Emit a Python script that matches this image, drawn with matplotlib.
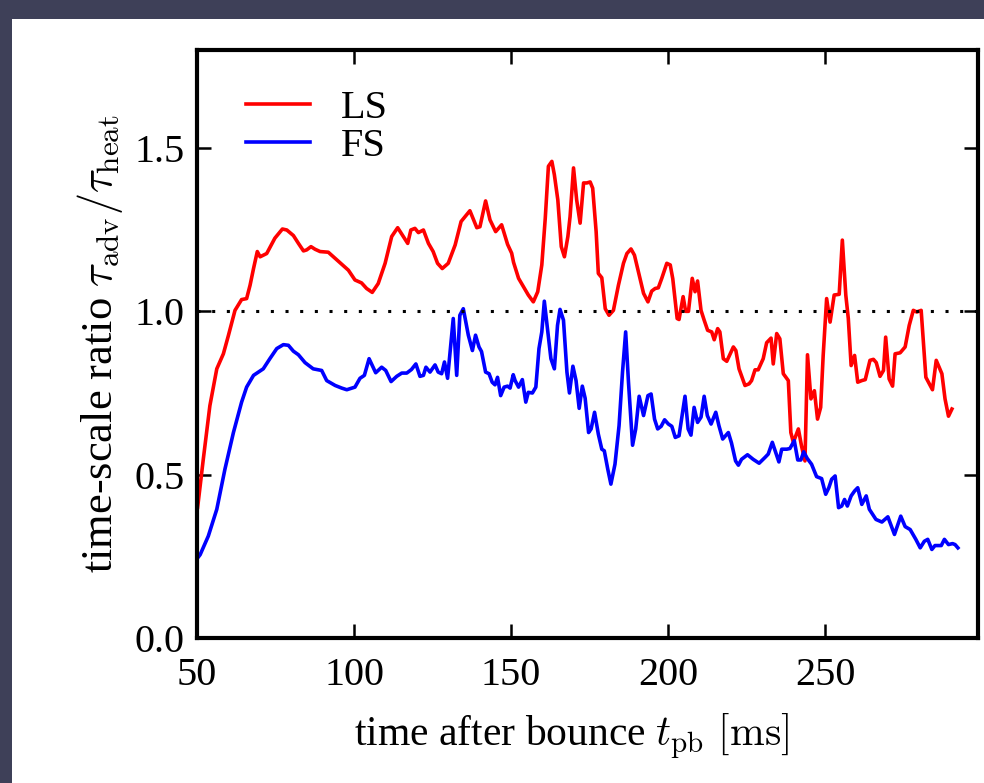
import matplotlib
matplotlib.use('Agg')
import matplotlib.pyplot as plt
from matplotlib.patches import Rectangle

# LS model (red)
ls_t = [50.2, 52, 54.1, 56.3, 58.4, 60, 62.1, 64.2, 65.8, 66.9, 68, 69.2, 70.1, 72.2, 74.8, 77.2,
        78.6, 80.7, 82.3, 83.9, 84.9, 86.3, 87.6, 89.2, 91.8, 94, 96.1, 98.2, 100.3, 102.4, 104,
        105.8, 107.7, 109.9, 112, 113.9, 115.7, 117.1, 118.1, 119.4, 120.5, 122.1, 123.7, 125.2,
        126.6, 128.1, 130, 132.2, 134.1, 136.9, 139.1, 140.1, 141.9, 143.3, 145.1, 147, 148.9,
        150.2, 150.8, 152.4, 154, 155.5, 157.1, 158.5, 159.8, 160.9, 161.9, 163, 163.8, 164.9,
        166, 167, 168.1, 168.8, 169.9, 170.9, 172, 173.1, 174.1, 175.2, 176, 177.1, 177.8, 178.9,
        180, 181.2, 182.6, 184.2, 185.8, 186.9, 188.2, 189.3, 190.8, 192.2, 193.6, 194.8, 195.9,
        196.9, 198, 199.6, 200.7, 201.5, 202.9, 203.5, 204.8, 205.6, 206.5, 207.7, 208.6, 209.4,
        210.5, 211.5, 212.6, 213.9, 214.7, 215.8, 216.5, 217.6, 218.7, 220.8, 221.6, 222.6, 224.5,
        225.8, 226.6, 227.7, 228.7, 230.3, 231.4, 232.8, 233.5, 234.6, 235.6, 236.7, 238.3, 239.1,
        239.9, 241.5, 242.5, 243.6, 244.4, 245.5, 246.6, 247.6, 248.6, 249.4, 250.5, 251.6, 252.9,
        254.5, 255.5, 256.6, 257.4, 258.3, 259.4, 260.4, 261.7, 262.8, 264.3, 265.4, 266.3, 267.5,
        268.6, 269.3, 270.4, 271.5, 272.3, 273.9, 275.5, 276.8, 278.1, 279.2, 280.6, 282.1, 284.2,
        285.4, 287.2, 288.2, 289.3, 290.4]
ls_r = [0.40, 0.547, 0.711, 0.824, 0.870, 0.926, 1.003, 1.036, 1.039, 1.080, 1.131, 1.183, 1.167,
        1.177, 1.224, 1.252, 1.249, 1.232, 1.208, 1.185, 1.188, 1.198, 1.190, 1.183, 1.181, 1.162,
        1.144, 1.126, 1.096, 1.087, 1.070, 1.058, 1.085, 1.147, 1.229, 1.256, 1.229, 1.208, 1.249,
        1.254, 1.241, 1.249, 1.208, 1.183, 1.147, 1.131, 1.147, 1.203, 1.275, 1.308, 1.256, 1.259,
        1.338, 1.280, 1.244, 1.265, 1.205, 1.178, 1.150, 1.101, 1.075, 1.050, 1.029, 1.060, 1.142,
        1.285, 1.444, 1.459, 1.418, 1.341, 1.198, 1.167, 1.229, 1.290, 1.439, 1.341, 1.270, 1.393,
        1.393, 1.396, 1.377, 1.244, 1.116, 1.103, 1.008, 0.988, 1.003, 1.080, 1.147, 1.177, 1.191,
        1.172, 1.111, 1.055, 1.029, 1.062, 1.070, 1.072, 1.101, 1.147, 1.142, 1.100, 0.978, 0.975,
        1.045, 1.000, 1.000, 1.101, 1.060, 1.093, 1.003, 0.973, 0.942, 0.937, 0.913, 0.947, 0.937,
        0.855, 0.847, 0.891, 0.880, 0.824, 0.773, 0.778, 0.788, 0.821, 0.821, 0.855, 0.904, 0.918,
        0.839, 0.932, 0.916, 0.809, 0.788, 0.629, 0.599, 0.640, 0.588, 0.542, 0.867, 0.732, 0.757,
        0.670, 0.706, 0.865, 1.039, 0.967, 1.050, 1.052, 1.218, 1.050, 0.978, 0.834, 0.865, 0.783,
        0.788, 0.791, 0.850, 0.853, 0.843, 0.801, 0.819, 0.921, 0.793, 0.771, 0.870, 0.873, 0.891,
        0.957, 1.003, 0.998, 1.003, 0.798, 0.760, 0.850, 0.809, 0.732, 0.679, 0.701]

# FS model (blue)
fs_t = [50.2, 51, 53.6, 56.3, 58.9, 61.6, 64.2, 65.8, 68, 71.1, 73.2, 75.4, 77.5, 79.1, 80.7, 82.3,
        84.4, 87, 89.7, 91.3, 94, 96.1, 97.7, 100.3, 101.9, 103.3, 104.8, 106.9, 108.8, 110.1,
        111.8, 113.6, 115.2, 116.8, 118.3, 119.7, 121, 122.1, 122.9, 124.2, 125.8, 126.8, 127.9,
        128.8, 129.8, 131.6, 132.7, 133.7, 134.8, 136.4, 137.7, 138.7, 139.8, 140.6, 141.9, 143,
        144, 144.9, 145.7, 146.7, 147.8, 148.9, 149.7, 150.7, 151.3, 152.4, 153.6, 154.7, 155.5,
        156.8, 157.9, 158.9, 159.8, 160.6, 161.6, 162.7, 163.8, 164.8, 165.6, 166.7, 167.8, 168.6,
        169.7, 170.7, 171.7, 172.7, 173.6, 174.7, 175.5, 176.6, 177.8, 178.9, 179.7, 180.8, 181.8,
        183.1, 184.4, 185.5, 186.5, 187.4, 188.7, 189.7, 190.8, 192.2, 193.6, 194.6, 195.7, 196.7,
        197.8, 198.9, 200.1, 201.2, 202.3, 203.5, 204.3, 205.4, 206.4, 207.3, 208.3, 209.4, 210.5,
        211.5, 212.5, 213.7, 215.2, 216.2, 217.4, 219.2, 220.2, 221.5, 222.4, 223.4, 225.3, 227.1,
        229, 230.9, 231.9, 233.2, 234.3, 235.3, 236.2, 237.8, 238.8, 240.2, 241.3, 242.3, 243.2,
        244.3, 245.7, 247.3, 248.9, 250.2, 251.2, 252.1, 253.2, 254.3, 255.3, 256.2, 257.1, 258.3,
        259.4, 260.4, 261.7, 263.1, 264.1, 266.2, 268.1, 270, 272.1, 274.1, 275.5, 277.1, 278.9,
        280.3, 281.6, 282.7, 284, 285, 287, 288, 289.3, 290.6, 291.4, 292.3]
fs_r = [0.245, 0.255, 0.312, 0.394, 0.517, 0.629, 0.722, 0.768, 0.804, 0.824, 0.855, 0.886, 0.898,
        0.896, 0.878, 0.867, 0.843, 0.824, 0.819, 0.788, 0.773, 0.765, 0.760, 0.768, 0.795, 0.804,
        0.855, 0.812, 0.829, 0.819, 0.785, 0.801, 0.811, 0.811, 0.822, 0.839, 0.801, 0.804, 0.829,
        0.814, 0.836, 0.814, 0.809, 0.845, 0.795, 0.978, 0.804, 0.988, 1.008, 0.927, 0.880, 0.927,
        0.891, 0.877, 0.814, 0.809, 0.783, 0.775, 0.798, 0.742, 0.768, 0.771, 0.765, 0.806, 0.788,
        0.768, 0.791, 0.722, 0.752, 0.750, 0.768, 0.886, 0.937, 1.031, 0.947, 0.855, 0.824, 0.957,
        1.006, 0.973, 0.814, 0.750, 0.832, 0.788, 0.703, 0.771, 0.734, 0.629, 0.640, 0.691, 0.624,
        0.578, 0.573, 0.517, 0.471, 0.532, 0.650, 0.814, 0.937, 0.783, 0.590, 0.640, 0.740, 0.681,
        0.742, 0.747, 0.670, 0.640, 0.648, 0.668, 0.655, 0.648, 0.614, 0.619, 0.670, 0.740, 0.640,
        0.621, 0.706, 0.660, 0.676, 0.740, 0.681, 0.655, 0.691, 0.650, 0.609, 0.629, 0.597, 0.542,
        0.529, 0.547, 0.561, 0.547, 0.535, 0.553, 0.563, 0.599, 0.568, 0.539, 0.578, 0.578, 0.580,
        0.604, 0.545, 0.545, 0.570, 0.550, 0.532, 0.494, 0.488, 0.440, 0.460, 0.486, 0.496, 0.399,
        0.404, 0.424, 0.404, 0.435, 0.450, 0.460, 0.409, 0.435, 0.394, 0.363, 0.355, 0.371, 0.317,
        0.373, 0.341, 0.332, 0.302, 0.276, 0.296, 0.302, 0.271, 0.283, 0.283, 0.302, 0.286, 0.289,
        0.286, 0.276]

x_ticks = [50, 100, 150, 200, 250]
y_ticks = [0.0, 0.5, 1.0, 1.5]
y_tick_labels = ['0.0', '0.5', '1.0', '1.5']

plt.rcParams['font.family'] = ['Liberation Serif', 'DejaVu Serif']
plt.rcParams['mathtext.fontset'] = 'cm'

fig = plt.figure(figsize=(9.84, 7.83), dpi=100)
fig.patch.set_facecolor('#3e4058')
bg = Rectangle((12 / 984, 0), 1, (783 - 19) / 783, transform=fig.transFigure,
               facecolor='white', edgecolor='none', zorder=-10)
fig.patches.append(bg)

ax = fig.add_axes([197 / 984, 145 / 783, 781 / 984, 588 / 783])
ax.set_zorder(5)
ax.plot(ls_t, ls_r, color='#ff0000', lw=2.6, label='LS')
ax.plot(fs_t, fs_r, color='#0000ff', lw=2.6, label='FS')
ax.axhline(1.0, color='black', lw=2.2, linestyle=(0, (1, 3.8)), dash_capstyle='butt')

ax.set_xlim(50, 298.7)
ax.set_ylim(0, 1.8)
ax.set_xticks(x_ticks)
ax.set_yticks(y_ticks)
ax.set_yticklabels(y_tick_labels)
ax.tick_params(direction='in', length=10, width=1.8, top=True, right=True,
               labelsize=29)
ax.tick_params(axis='y', pad=9)
ax.tick_params(axis='x', pad=14)
for s in ax.spines.values():
    s.set_linewidth(3)

ax.set_xlabel(r'time after bounce $t_{\mathrm{pb}}\ [\mathrm{ms}]$', fontsize=30, labelpad=14)
ax.xaxis.set_label_coords(0.479, -0.125)
ax.set_ylabel(r'time-scale ratio $\tau_{\mathrm{adv}}/\tau_{\mathrm{heat}}$', fontsize=32, labelpad=7)

ax.legend(loc='upper left', frameon=False, fontsize=29, handlelength=1.6, handletextpad=0.75,
          labelspacing=0.02, borderaxespad=0.0, bbox_to_anchor=(0.042, 0.96))

fig.savefig('out.png', dpi=100, facecolor=fig.get_facecolor())
